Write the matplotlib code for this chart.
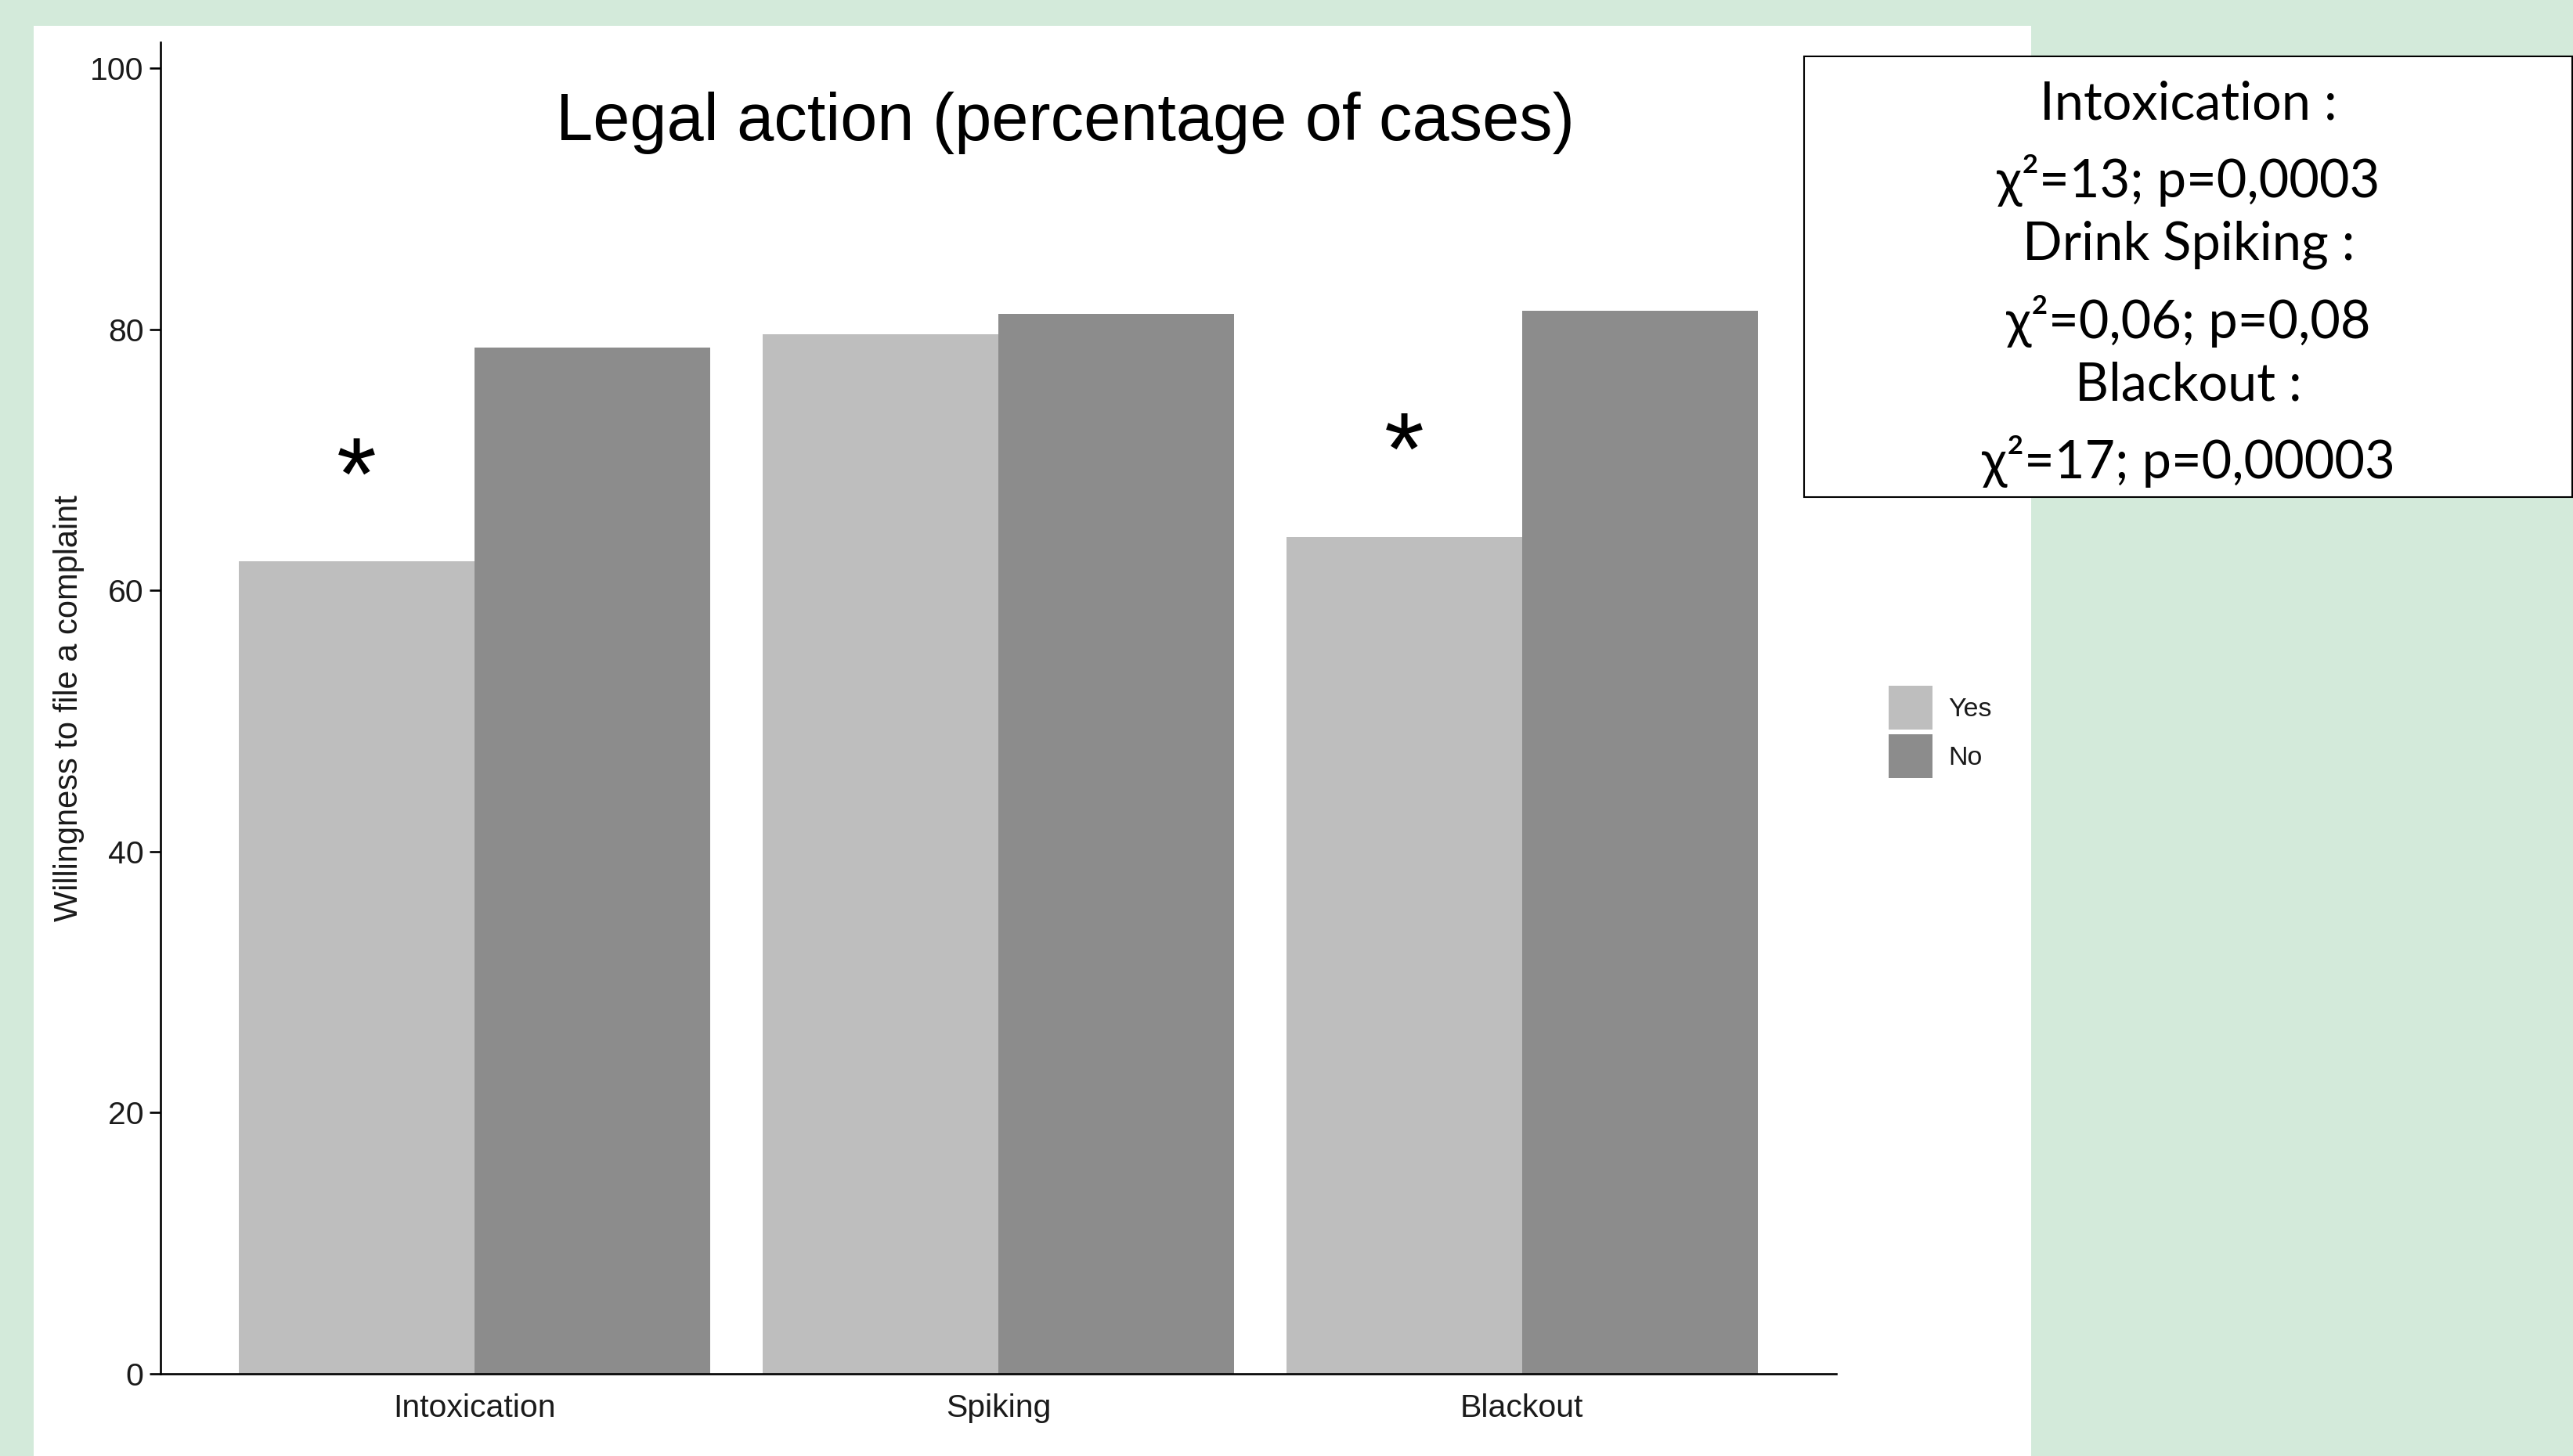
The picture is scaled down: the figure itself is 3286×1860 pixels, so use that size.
import matplotlib
matplotlib.use("Agg")
import matplotlib.pyplot as plt
from matplotlib.patches import Rectangle, Patch
import numpy as np

# Data
categories = ["Intoxication", "Spiking", "Blackout"]
yes_values = [62.2, 79.6, 64.1]
no_values = [78.6, 81.2, 81.4]
series_labels = ["Yes", "No"]
significant = [True, False, True]
y_ticks = [0, 20, 40, 60, 80, 100]

title = "Legal action (percentage of cases)"
y_label = "Willingness to file a complaint"
stats_lines = [
    "Intoxication :",
    "χ²=13; p=0,0003",
    "Drink Spiking :",
    "χ²=0,06; p=0,08",
    "Blackout :",
    "χ²=17; p=0,00003",
]

# Style
W, H = 3287, 1860
DPI = 100
bg_green = "#D3EADA"
yes_color = "#BEBEBE"
no_color = "#8C8C8C"
text_dark = "#1a1a1a"
sans = ["Liberation Sans", "DejaVu Sans"]
box_font = ["Lato", "DejaVu Sans"]

fig = plt.figure(figsize=(W / DPI, H / DPI), dpi=DPI, facecolor=bg_green)

# White slide panel
fig.patches.append(Rectangle((43 / W, 0), (2594 - 43) / W, 1 - 33 / H,
                             transform=fig.transFigure, facecolor="white",
                             edgecolor="none", zorder=-10))

ax = fig.add_axes([205 / W, 1 - 1755 / H, (2345 - 205) / W, (1755 - 53.6) / H])
ax.set_facecolor("none")
ax.set_zorder(1)

x = np.arange(len(categories))
bw = 0.45
ax.bar(x - bw / 2, yes_values, width=bw, color=yes_color, linewidth=0, label=series_labels[0])
ax.bar(x + bw / 2, no_values, width=bw, color=no_color, linewidth=0, label=series_labels[1])

ax.set_xlim(-0.6, len(categories) - 0.4)
ax.set_ylim(0, 102)
ax.set_xticks(x)
ax.set_xticklabels(categories)
ax.set_yticks(y_ticks)

for s in ["top", "right"]:
    ax.spines[s].set_visible(False)
for s in ["left", "bottom"]:
    ax.spines[s].set_linewidth(1.9)
    ax.spines[s].set_color("black")

ax.tick_params(axis="y", length=10, width=1.9, pad=5.5, labelsize=29.5, labelcolor=text_dark)
ax.tick_params(axis="x", length=0, pad=18, labelsize=29.5, labelcolor=text_dark)
for lab in ax.get_xticklabels() + ax.get_yticklabels():
    lab.set_fontfamily(sans)

ax.set_ylabel(y_label, fontsize=30, family=sans, color=text_dark, va="center")
ax.yaxis.set_label_coords(-0.0546, 0.5)

# Significance markers above the "Yes" bars
for xi, yv, sig in zip(x, yes_values, significant):
    if sig:
        ax.text(xi - bw / 2, yv + 4.0, "*", fontsize=94, family=sans,
                ha="center", va="baseline", color="black")

# Title
fig.text(1360 / W, 1 - 179 / H, title, fontsize=61, family=sans,
         ha="center", va="baseline", color="black", zorder=3)

# Legend
handles = [Patch(facecolor=yes_color, edgecolor="none"),
           Patch(facecolor=no_color, edgecolor="none")]
leg = ax.legend(handles, series_labels, loc="upper left",
                bbox_to_anchor=(2412 / W, 1 - 876 / H), bbox_transform=fig.transFigure,
                frameon=False, borderpad=0, borderaxespad=0,
                handlelength=1.65, handleheight=2.157, labelspacing=0.18,
                handletextpad=0.59, prop={"family": sans, "size": 24.5})
for t in leg.get_texts():
    t.set_color(text_dark)

# Statistics box
fig.patches.append(Rectangle((2304 / W, 1 - 635 / H), (3285 - 2304) / W, (635 - 72) / H,
                             transform=fig.transFigure, facecolor="white",
                             edgecolor="black", linewidth=1.5, zorder=5))
baselines = [152, 252, 332, 432, 511, 611]
for line, yb in zip(stats_lines, baselines):
    fig.text(2795 / W, 1 - yb / H, line, fontsize=48, family=box_font,
             ha="center", va="baseline", color="black", zorder=6)

fig.savefig("out.png", dpi=DPI, facecolor=bg_green)
